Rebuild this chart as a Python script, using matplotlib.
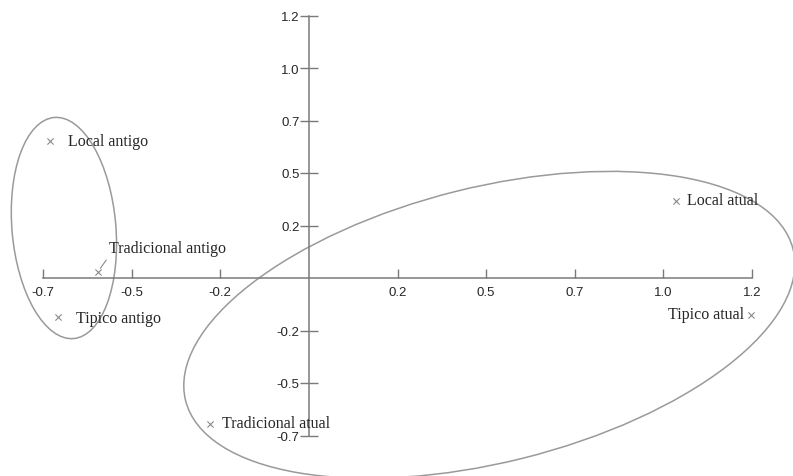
#!/usr/bin/python3


""" correspondence map of the 'local / tipico / tradicional' categories,
old against current, with the two groups circled """


import matplotlib
matplotlib.use("Agg")
import matplotlib.pyplot as plt
from matplotlib.patches import Ellipse
from matplotlib.transforms import Affine2D


CATEGORIES = ["Local antigo", "Tradicional antigo", "Tipico antigo",
              "Local atual", "Tipico atual", "Tradicional atual"]
DIM_1 = [-0.729, -0.595, -0.707, 1.036, 1.248, -0.280]
DIM_2 = [0.651, 0.030, -0.187, 0.368, -0.175, -0.694]

X_TICKS = [-0.75, -0.5, -0.25, 0.25, 0.5, 0.75, 1.0, 1.25]
X_TICK_LABELS = ["-0.7", "-0.5", "-0.2", "0.2", "0.5", "0.7", "1.0", "1.2"]
Y_TICKS = [-0.75, -0.5, -0.25, 0.25, 0.5, 0.75, 1.0, 1.25]
Y_TICK_LABELS = ["-0.7", "-0.5", "-0.2", "0.2", "0.5", "0.7", "1.0", "1.2"]

# label offsets in points: (dx, dy, horizontal alignment)
LABEL_OFFSETS = {
    "Local antigo": (12.5, 0, "left"),
    "Tradicional antigo": (8, 17, "left"),
    "Tipico antigo": (13, -0.5, "left"),
    "Local atual": (8, 0.5, "left"),
    "Tipico atual": (-5.5, 0.5, "right"),
    "Tradicional atual": (9, 0.5, "left"),
}

# group outlines: centre (dim 1, dim 2), long and short diameters
# (in dim 1 units, drawn on an isotropic scale), tilt in degrees
GROUPS = [((-0.691, 0.238), 0.626, 0.293, 95.),
          ((0.509, -0.223), 1.766, 0.776, 14.)]

PX_X = 354.5   # pixels per unit, horizontal
PX_Y = 210.0   # pixels per unit, vertical
AXIS_GREY = "#7a7a7a"
TEXT_GREY = "#262626"


def draw_axes(axis):
    """ cross shaped axes through the origin """
    axis.set_xlim(-0.75 - 43. / PX_X, 1.25 + 41. / PX_X)
    axis.set_ylim(-(477. - 279.) / PX_Y, 279. / PX_Y)
    for side in ["top", "right"]:
        axis.spines[side].set_visible(False)
    axis.spines["left"].set_position(("data", 0.))
    axis.spines["bottom"].set_position(("data", 0.))
    axis.spines["left"].set_bounds(-0.75, 1.25)
    axis.spines["bottom"].set_bounds(-0.75, 1.25)
    for side in ["left", "bottom"]:
        axis.spines[side].set_color(AXIS_GREY)
        axis.spines[side].set_linewidth(1.1)
    axis.set_xticks(X_TICKS)
    axis.set_xticklabels(X_TICK_LABELS)
    axis.set_yticks(Y_TICKS)
    axis.set_yticklabels(Y_TICK_LABELS)
    # x ticks stick up more than down: major inward, minor outward
    axis.set_xticks(X_TICKS, minor=True)
    axis.tick_params(axis="x", which="major", direction="in", length=6.5,
                     width=1.0, color=AXIS_GREY, pad=6.0,
                     labelsize=9.5, labelcolor=TEXT_GREY)
    axis.tick_params(axis="x", which="minor", direction="out", length=2.5,
                     width=1.0, color=AXIS_GREY)
    axis.tick_params(axis="y", which="major", direction="inout", length=12.5,
                     width=1.0, color=AXIS_GREY, pad=0.5,
                     labelsize=9.5, labelcolor=TEXT_GREY)
    for label in axis.get_xticklabels() + axis.get_yticklabels():
        label.set_fontfamily("Liberation Sans")


def draw_groups(axis):
    """ grey ellipses round the old and the current categories """
    ratio = PX_Y / PX_X
    transform = Affine2D().scale(1., 1. / ratio) + axis.transData
    for centre, width, height, angle in GROUPS:
        ellipse = Ellipse((centre[0], centre[1] * ratio), width, height,
                          angle=angle, transform=transform,
                          fill=False, edgecolor="#9a9a9a", linewidth=1.1,
                          clip_on=False)
        axis.add_patch(ellipse)


def draw_points(axis):
    """ crosses and their names """
    axis.scatter(DIM_1, DIM_2, marker="x", s=20, color="#8a8a8a",
                 linewidths=0.8, zorder=3)
    for index, name in enumerate(CATEGORIES):
        d_x, d_y, align = LABEL_OFFSETS[name]
        arrow = None
        if name == "Tradicional antigo":
            arrow = dict(arrowstyle="-", color="#8a8a8a", linewidth=0.8,
                         shrinkA=1, shrinkB=3, relpos=(0., 0.))
        axis.annotate(name, (DIM_1[index], DIM_2[index]),
                      xytext=(d_x, d_y), textcoords="offset points",
                      ha=align, va="center", fontsize=11.5,
                      family="Liberation Serif", color=TEXT_GREY,
                      arrowprops=arrow)


if __name__ == "__main__":
    FIGURE = plt.figure(figsize=(7.93, 4.77), dpi=100, facecolor="white")
    AXIS = FIGURE.add_axes([0., 0., 1., 1.])
    AXIS.patch.set_alpha(0.)
    draw_axes(AXIS)
    draw_groups(AXIS)
    draw_points(AXIS)
    FIGURE.savefig("out.png", dpi=100, facecolor="white")
